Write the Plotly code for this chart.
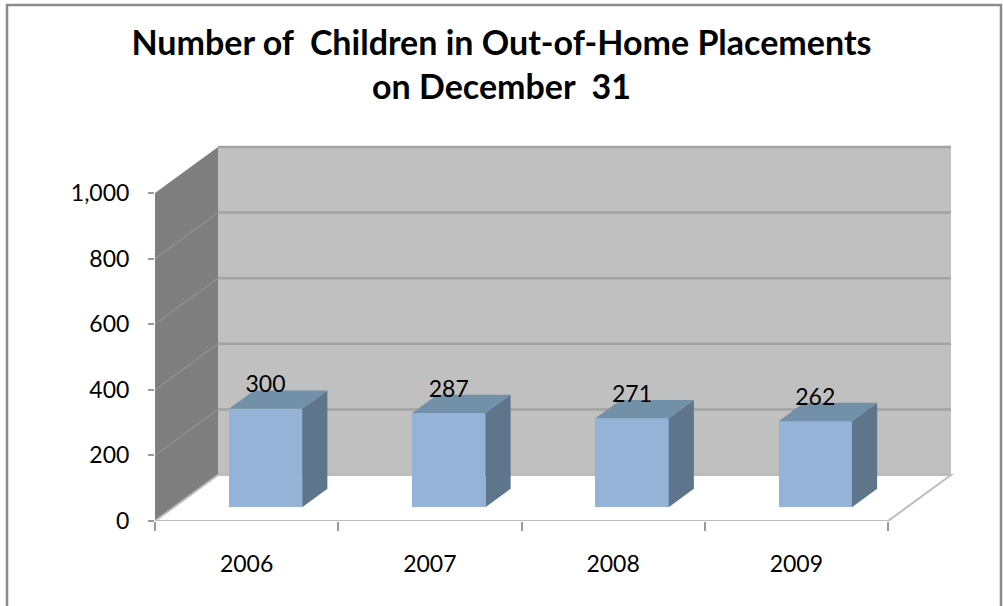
import plotly.graph_objects as go

# ---------------- data ----------------
years = ["2006", "2007", "2008", "2009"]
values = [300, 287, 271, 262]
y_ticks = [0, 200, 400, 600, 800, 1000]
title_lines = ["Number of\u00a0 Children in Out-of-Home Placements", "on December\u00a0 31"]

# ---------------- geometry / style ----------------
W, H = 1003, 606
L, R, T, B = 155, 48, 140, 85
PX_PER_CAT = 183.25
PX_PER_VAL = 0.328
N = len(years)
YMAX = max(y_ticks)
DX = 63 / PX_PER_CAT        # depth shift (category units)
DY = 46 / PX_PER_VAL        # depth shift (value units)
BAR_W = 0.40
D0, D1 = 0.30, 0.70         # bar depth position (fraction of floor depth)

C_FRONT = "#95b3d7"
C_TOP = "#7390a9"
C_SIDE = "#5f758b"
C_BACK = "#c0c0c0"
C_LEFT = "#7f7f7f"
C_GRID = "#a3a3a3"
FONT_TICK = dict(family="Lato", size=23, color="#000000")

pw, ph = W - L - R, H - T - B
x_range = [0, pw / PX_PER_CAT]
y_range = [0, ph / PX_PER_VAL]

fig = go.Figure()

# front faces
base = D0 * DY
centers = [i + 0.5 + D0 * DX for i in range(N)]
fig.add_trace(go.Bar(x=centers, y=values, base=base, width=BAR_W,
                     marker=dict(color=C_FRONT, line=dict(width=0)),
                     hoverinfo="skip", showlegend=False))

# side and top faces (computed from the values)
sx, sy, tx, ty = [], [], [], []
ddx, ddy = (D1 - D0) * DX, (D1 - D0) * DY
for c, v in zip(centers, values):
    xl, xr_ = c - BAR_W / 2, c + BAR_W / 2
    yt = base + v
    sx += [xr_, xr_, xr_ + ddx, xr_ + ddx, xr_, None]
    sy += [base, yt, yt + ddy, base + ddy, base, None]
    tx += [xl, xr_, xr_ + ddx, xl + ddx, xl, None]
    ty += [yt, yt, yt + ddy, yt + ddy, yt, None]
fig.add_trace(go.Scatter(x=sx, y=sy, mode="lines", fill="toself", fillcolor=C_SIDE,
                         line=dict(width=0, color=C_SIDE), hoverinfo="skip", showlegend=False))
fig.add_trace(go.Scatter(x=tx, y=ty, mode="lines", fill="toself", fillcolor=C_TOP,
                         line=dict(width=0, color=C_TOP), hoverinfo="skip", showlegend=False))

# value labels
fig.add_trace(go.Scatter(x=centers, y=[base + v + 68 for v in values], mode="text",
                         text=[f"{v:,}" for v in values], textposition="middle center",
                         textfont=FONT_TICK, hoverinfo="skip", showlegend=False))

shapes = []
# back wall
shapes.append(dict(type="rect", xref="x", yref="y", x0=DX, x1=N + DX, y0=DY, y1=YMAX + DY,
                   fillcolor=C_BACK, line=dict(width=0), layer="below"))
for v in y_ticks:
    shapes.append(dict(type="line", xref="x", yref="y", x0=DX, x1=N + DX, y0=v + DY, y1=v + DY,
                       line=dict(color=C_GRID, width=2.5), layer="below"))
# left side wall
shapes.append(dict(type="path", xref="x", yref="y",
                   path=f"M 0,0 L 0,{YMAX} L {DX},{YMAX + DY} L {DX},{DY} Z",
                   fillcolor=C_LEFT, line=dict(width=0), layer="below"))
for v in y_ticks[1:-1]:
    shapes.append(dict(type="line", xref="x", yref="y", x0=0, x1=DX, y0=v, y1=v + DY,
                       line=dict(color="#9a9a9a", width=1), layer="below"))
# floor
shapes.append(dict(type="path", xref="x", yref="y",
                   path=f"M 0,0 L {DX},{DY} L {N + DX},{DY} L {N},0 Z",
                   fillcolor="#ffffff", line=dict(color="#bdbdbd", width=2), layer="below"))
# outer border
def px_x(p):
    return (p - L) / pw
def px_y(p):
    return (H - B - p) / ph
shapes.append(dict(type="rect", xref="paper", yref="paper",
                   x0=px_x(7), x1=px_x(1001), y0=px_y(640), y1=px_y(5),
                   fillcolor="rgba(0,0,0,0)", line=dict(color="#8c8c8c", width=2.5)))

fig.update_layout(
    width=W, height=H,
    margin=dict(l=L, r=R, t=T, b=B, autoexpand=False),
    paper_bgcolor="white", plot_bgcolor="rgba(0,0,0,0)",
    shapes=shapes,
    bargap=0,
    title=dict(text="<b>" + "<br>".join(title_lines) + "</b>",
               font=dict(family="Lato", size=34, color="#000000"),
               x=0.5, xanchor="center", xref="container",
               y=1 - 55 / H, yanchor="top", yref="container"),
    xaxis=dict(range=x_range, tickmode="array", tickvals=[i + 0.5 for i in range(N)],
               ticktext=years, ticks="", ticklen=0, showgrid=False, zeroline=False,
               showline=False, tickfont=FONT_TICK, ticklabelstandoff=27, automargin=False,
               minor=dict(tickmode="array", tickvals=list(range(N + 1)), ticks="outside",
                          ticklen=9, tickwidth=2, tickcolor="#9a9a9a", showgrid=False),
               fixedrange=True),
    yaxis=dict(range=y_range, tickmode="array", tickvals=y_ticks, tickformat=",",
               ticks="outside", ticklen=6, tickwidth=2, tickcolor="#9a9a9a",
               showgrid=False, zeroline=False, showline=False, tickfont=FONT_TICK,
               ticklabelstandoff=14, automargin=False, fixedrange=True),
)

fig.write_html("out.html", config={"displayModeBar": False},
               post_script="document.body.style.margin='0';document.body.style.overflow='hidden';")
